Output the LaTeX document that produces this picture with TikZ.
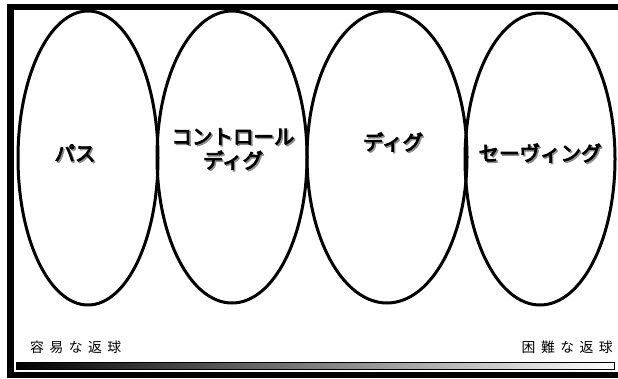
\documentclass[tikz,border=0pt]{standalone}
\usepackage{fontspec}
\newfontfamily\jpheavy[FakeBold=4]{Noto Sans CJK JP}
\newfontfamily\jpspaced[LetterSpace=40]{Noto Sans CJK JP}
\usetikzlibrary{calc}

\begin{document}
\begin{tikzpicture}[x=1pt, y=-1pt,
  ring/.style={line width=3pt},
  shot/.style={font=\jpheavy\fontsize{20.5}{24}\selectfont, inner sep=0pt, align=center},
  shadow/.style={shot, text=black!45},
  gauge/.style={font=\jpspaced\fontsize{13.8}{16}\selectfont, inner sep=0pt}]
  \useasboundingbox (0,0) rectangle (618,378);
  % 外枠 (右辺は画面外)
  \draw[line width=6.5pt] (10.5,7) rectangle (624,375);
  % 四つの返球の範囲
  \coordinate (pass) at (88,158);
  \coordinate (control) at (232,157);
  \coordinate (dig) at (387,157);
  \coordinate (saving) at (540,159);
  \draw[ring] (pass) ellipse [x radius=70pt, y radius=147pt];
  \draw[ring] (control) ellipse [x radius=75pt, y radius=146pt];
  \draw[ring] (dig) ellipse [x radius=80pt, y radius=146pt];
  \draw[ring] (saving) ellipse [x radius=75pt, y radius=146pt];
  % ラベル (影つき)
  \node[shadow] (pass-s) at (76.5,154.5) {パス};
  \node[shot] (pass-t) at (75,153) {パス};
  \node[shadow] (control-s) at (234.5,150.5) {コントロール\\ディグ};
  \node[shot] (control-t) at (233,149) {コントロール\\ディグ};
  \node[shadow] (dig-s) at (394.5,143.5) {ディグ};
  \node[shot] (dig-t) at (393,142) {ディグ};
  \node[shadow] (saving-s) at (541.5,154.5) {セーヴィング};
  \node[shot] (saving-t) at (540,153) {セーヴィング};
  % 難易度の目盛り
  \node[gauge, anchor=west] (easy) at (30,347) {容易な返球};
  \node[gauge, anchor=east] (hard) at (613,347) {困難な返球};
  \shade[left color=black, right color=white] (16,362) rectangle (614,369);
  \draw[line width=0.8pt] (16,362) rectangle (614,369);
\end{tikzpicture}
\end{document}
